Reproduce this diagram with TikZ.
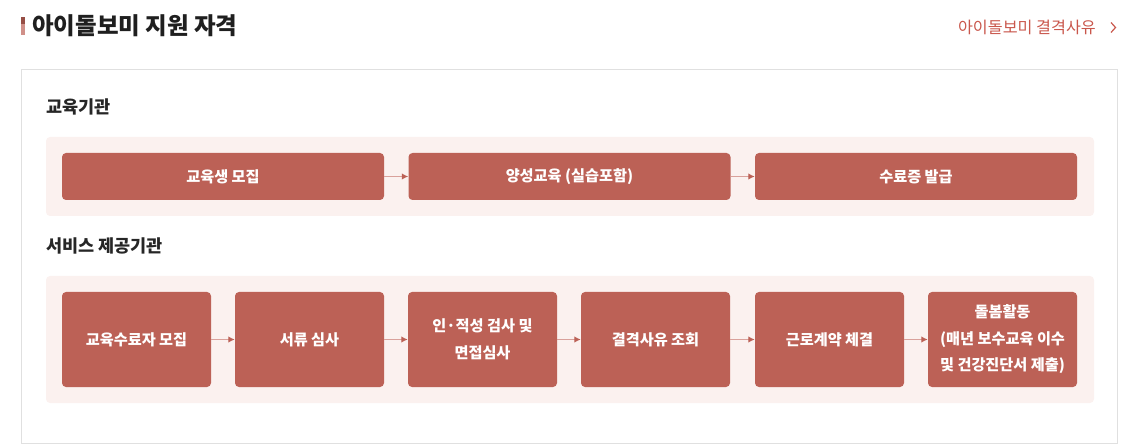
\documentclass[tikz,border=0pt]{standalone}
\usepackage{fontspec}
\newfontfamily\kr{Noto Sans CJK KR}
\usetikzlibrary{arrows.meta}
\definecolor{boxred}{HTML}{BC6156}
\definecolor{panelbg}{HTML}{FBF1EF}
\definecolor{linkred}{HTML}{C9574C}
\definecolor{arrowline}{HTML}{D9A19B}
\definecolor{framegray}{HTML}{E0E0E0}
\begin{document}
\begin{tikzpicture}[
  x=1pt, y=-1pt,
  every node/.style={font=\kr},
  heading/.style={anchor=west, inner sep=0pt, font=\kr\bfseries\fontsize{17.5}{20}\selectfont, text=black!85},
  panel/.style={fill=panelbg, rounded corners=4pt},
  wide/.style={fill=boxred, rounded corners=4pt, minimum width=322pt, minimum height=47pt, inner sep=0pt,
    text=white, align=center, font=\kr\bfseries\fontsize{15.2}{26.5}\selectfont},
  stage/.style={wide, minimum width=149pt, minimum height=95pt},
  flow/.style={draw=arrowline, line width=1.3pt, -{Latex[length=6.5pt, width=6.5pt, color=boxred]}}
]
\useasboundingbox (0,0) rectangle (1135,446);

% --- en-tête ---
\fill[boxred!80!black] (21,17) rectangle (25,24);
\fill[boxred!70!white] (21,24) rectangle (25,35);
\node[anchor=west, inner sep=0pt, font=\kr\bfseries\fontsize{23.5}{26}\selectfont, text=black!88] (title) at (32,26)
  {아이돌보미 지원 자격};
\node[anchor=east, inner sep=0pt, font=\kr\fontsize{16.2}{18}\selectfont, text=linkred] (link) at (1096,27)
  {아이돌보미 결격사유};
\draw[linkred, line width=1.2pt] (1111,22.5) -- (1115.5,27.5) -- (1111,32.5);

% --- cadre ---
\draw[framegray, line width=1pt] (21.5,69.5) rectangle (1117.5,443.5);

% --- 교육기관 ---
\node[heading] (h1) at (46,107) {교육기관};
\fill[panel] (46,137) rectangle (1094,216);

\node[wide] (e1) at (223,176.5) {교육생 모집};
\node[wide] (e2) at (569.5,176.5) {양성교육 (실습포함)};
\node[wide] (e3) at (916,176.5) {수료증 발급};

\draw[flow] (e1) -- (e2);
\draw[flow] (e2) -- (e3);

% --- 서비스 제공기관 ---
\node[heading] (h2) at (46,246) {서비스 제공기관};
\fill[panel] (46,276) rectangle (1094,403);

\node[stage] (s1) at (136.5,339.5) {교육수료자 모집};
\node[stage] (s2) at (309.5,339.5) {서류 심사};
\node[stage] (s3) at (482.5,339.5) {인·적성 검사 및\\면접심사};
\node[stage] (s4) at (655.5,339.5) {결격사유 조회};
\node[stage] (s5) at (829.5,339.5) {근로계약 체결};
\node[stage] (s6) at (1002.5,339.5) {돌봄활동\\(매년 보수교육 이수\\및 건강진단서 제출)};

\foreach \a/\b in {s1/s2, s2/s3, s3/s4, s4/s5, s5/s6}
  \draw[flow] (\a) -- (\b);

\end{tikzpicture}
\end{document}
